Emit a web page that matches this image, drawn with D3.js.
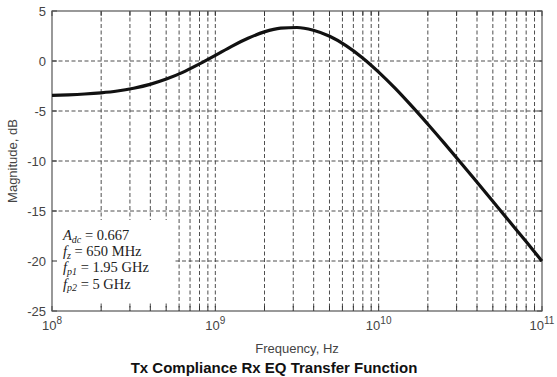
<!DOCTYPE html>
<html><head><meta charset="utf-8">
<script src="https://cdn.jsdelivr.net/npm/d3@7"></script>
<style>body{margin:0;background:#fff}svg{display:block}</style>
</head><body>
<svg id="c" width="557" height="377"></svg>
<script>
// Frequency in Hz and magnitude in dB
const freqHz = [1e8,1.259e8,1.585e8,1.995e8,2.512e8,3.162e8,3.981e8,5.012e8,6.31e8,7.943e8,
  1e9,1.259e9,1.585e9,1.995e9,2.512e9,3.162e9,3.981e9,5.012e9,6.31e9,7.943e9,
  1e10,1.259e10,1.585e10,1.995e10,2.512e10,3.162e10,3.981e10,5.012e10,6.31e10,7.943e10,1e11];
const magDb = [-3.43,-3.38,-3.30,-3.18,-3.00,-2.72,-2.34,-1.81,-1.14,-0.32,
  0.56,1.47,2.28,2.91,3.28,3.35,3.07,2.47,1.54,0.33,
  -1.11,-2.72,-4.47,-6.30,-8.19,-10.12,-12.08,-14.05,-16.03,-18.01,-20.01];
const yTicks = [5,0,-5,-10,-15,-20,-25];
const xDecades = [8,9,10,11];
const annot = [
  {main:"A", sub:"dc", rest:" = 0.667"},
  {main:"f", sub:"z", rest:" = 650 MHz"},
  {main:"f", sub:"p1", rest:" = 1.95 GHz"},
  {main:"f", sub:"p2", rest:" = 5 GHz"}
];

const svg = d3.select("#c");
const L=52, R=542, T=11, B=311;
const x = d3.scaleLog().domain([1e8,1e11]).range([L,R]);
const y = d3.scaleLinear().domain([-25,5]).range([B,T]);

const gridX = [];
for (let d=8; d<11; d++) for (let m=1; m<10; m++) gridX.push(m*Math.pow(10,d));
gridX.push(1e11);

const g = svg.append("g");
g.selectAll("line.vg").data(gridX.filter(v=>v>1e8 && v<1e11)).join("line")
  .attr("x1",d=>x(d)).attr("x2",d=>x(d)).attr("y1",T).attr("y2",B)
  .attr("stroke","#3a3a3a").attr("stroke-width",0.9).attr("stroke-dasharray","4,2.5");
g.selectAll("line.hg").data(yTicks.filter(v=>v>-25 && v<5)).join("line")
  .attr("x1",L).attr("x2",R).attr("y1",d=>y(d)).attr("y2",d=>y(d))
  .attr("stroke","#3a3a3a").attr("stroke-width",0.9).attr("stroke-dasharray","4,2.5");

// legend box masking the grid
g.append("rect").attr("x",L+1).attr("y",220).attr("width",120).attr("height",83).attr("fill","#fff");

g.selectAll("line.tb").data(gridX).join("line")
  .attr("x1",d=>x(d)).attr("x2",d=>x(d)).attr("y1",B).attr("y2",B-5)
  .attr("stroke","#333").attr("stroke-width",1);
g.selectAll("line.tt").data(gridX).join("line")
  .attr("x1",d=>x(d)).attr("x2",d=>x(d)).attr("y1",T).attr("y2",T+5)
  .attr("stroke","#333").attr("stroke-width",1);
g.selectAll("line.tl").data(yTicks).join("line")
  .attr("x1",L).attr("x2",L+5).attr("y1",d=>y(d)).attr("y2",d=>y(d))
  .attr("stroke","#333");
g.selectAll("line.tr").data(yTicks).join("line")
  .attr("x1",R).attr("x2",R-5).attr("y1",d=>y(d)).attr("y2",d=>y(d))
  .attr("stroke","#333");

g.append("rect").attr("x",L).attr("y",T).attr("width",R-L).attr("height",B-T)
  .attr("fill","none").attr("stroke","#555").attr("stroke-width",1.2);

const line = d3.line().x((d,i)=>x(freqHz[i])).y(d=>y(d)).curve(d3.curveMonotoneX);
g.append("path").datum(magDb).attr("d",line).attr("fill","none")
  .attr("stroke","#111").attr("stroke-width",3.2).attr("stroke-linejoin","round");

g.selectAll("text.yl").data(yTicks).join("text")
  .attr("x",L-6).attr("y",d=>y(d)+5).attr("text-anchor","end")
  .attr("font-family","Liberation Sans, Arial, sans-serif").attr("font-size",13)
  .attr("fill","#444").text(d=>d);

const xl = g.selectAll("text.xl").data(xDecades).join("text")
  .attr("x",d=>x(Math.pow(10,d))).attr("y",330).attr("text-anchor","middle")
  .attr("font-family","Liberation Sans, Arial, sans-serif").attr("font-size",13)
  .attr("fill","#444");
xl.append("tspan").text("10");
xl.append("tspan").attr("dy",-6).attr("font-size",10).text(d=>d);

svg.append("text").attr("x",297).attr("y",353).attr("text-anchor","middle")
  .attr("font-family","Liberation Sans, Arial, sans-serif").attr("font-size",13)
  .attr("fill","#444").text("Frequency, Hz");
svg.append("text").attr("transform","translate(17,161) rotate(-90)").attr("text-anchor","middle")
  .attr("font-family","Liberation Sans, Arial, sans-serif").attr("font-size",13)
  .attr("fill","#444").text("Magnitude, dB");
svg.append("text").attr("x",274).attr("y",373).attr("text-anchor","middle")
  .attr("font-family","Liberation Sans, Arial, sans-serif").attr("font-size",15)
  .attr("font-weight","bold").attr("fill","#111").text("Tx Compliance Rx EQ Transfer Function");

const at = svg.selectAll("text.an").data(annot).join("text")
  .attr("x",63).attr("y",(d,i)=>240+i*16.2)
  .attr("font-family","Liberation Serif, Times New Roman, serif").attr("font-size",14.5)
  .attr("fill","#222");
at.append("tspan").attr("font-style","italic").text(d=>d.main);
at.append("tspan").attr("font-style","italic").attr("font-size",10).attr("dy",2.5).text(d=>d.sub);
at.append("tspan").attr("dy",-2.5).text(d=>d.rest);
</script>
</body></html>
